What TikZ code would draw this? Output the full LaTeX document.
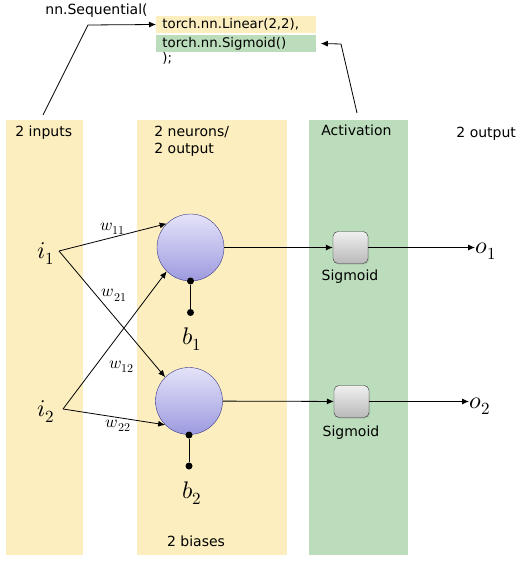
\documentclass[tikz,border=0pt]{standalone}
\usepackage{fontspec}
\usepackage{unicode-math}
\setmainfont{DejaVu Sans}
\setmathfont{Latin Modern Math}
\DeclareMathSizes{24}{24}{17}{12}
\DeclareMathSizes{17}{17}{12}{9}
\usetikzlibrary{arrows.meta,shadows}
\definecolor{colyellow}{HTML}{FCEEBF}
\definecolor{colgreen}{HTML}{BBDDBB}
\definecolor{neuronblue}{HTML}{3A3A8C}
\definecolor{neurontop}{HTML}{E4E3F9}
\definecolor{neuronbottom}{HTML}{9D9ADF}
\tikzset{
    label/.style={anchor=west, inner sep=0, font=\fontsize{14}{17}\selectfont},
    code/.style={anchor=west, inner xsep=6pt, inner ysep=0, minimum height=17.5pt, text width=148pt, align=left, font=\fontsize{13.3}{16}\selectfont},
    neuron/.style={circle, draw=neuronblue, thin, minimum size=67pt, inner sep=0, top color=neurontop, bottom color=neuronbottom},
    sigbox/.style={draw=black!80, thin, rounded corners=5pt, minimum width=35pt, minimum height=32pt, inner sep=0, top color=gray!12, bottom color=gray!55, drop shadow={opacity=0.25, shadow xshift=1pt, shadow yshift=-1pt}},
    dot/.style={circle, fill=black, minimum size=7pt, inner sep=0},
    mathlbl/.style={inner sep=0, font=\fontsize{24}{28}\selectfont},
    wlbl/.style={inner sep=0, font=\fontsize{17}{20}\selectfont},
}
\begin{document}
\begin{tikzpicture}[x=1pt, y=-1pt, >={Latex[length=7pt, width=6pt]}, line width=0.8pt]
    \useasboundingbox (0, 0) rectangle (522, 561);
    %Columns
    \fill[colyellow] (6, 120) rectangle (83, 555);
    \fill[colyellow] (137, 120) rectangle (287, 555);
    \fill[colgreen] (309, 120) rectangle (408, 555);

    %Code
    \node[label] at (45, 11) (seq) {nn.Sequential(};
    \node[code, fill=colyellow] at (156, 24.5) (lin) {torch.nn.Linear(2,2),};
    \node[code, fill=colgreen] at (156, 43.5) (sig) {torch.nn.Sigmoid()};
    \node[label, font=\fontsize{13.3}{16}\selectfont] at (162, 58) (close) {);};

    %Column titles
    \node[label] at (15, 133) (inputs) {2 inputs};
    \node[label, align=left] at (154, 141) (neurons) {2 neurons/\\2 output};
    \node[label] at (321, 130) (act) {Activation};
    \node[label] at (456, 134) (outputs) {2 output};
    \node[label, anchor=center] at (196, 541) (biases) {2 biases};

    %Nodes
    \node[mathlbl] at (46, 254) (i1) {$i_1$};
    \node[mathlbl] at (46, 412) (i2) {$i_2$};
    \node[neuron] at (190.5, 247.5) (n1) {};
    \node[neuron] at (189, 401) (n2) {};
    \node[sigbox] at (350.5, 247.5) (s1) {};
    \node[sigbox] at (351.5, 401.5) (s2) {};
    \node[label, anchor=center] at (350, 277) (s1lbl) {Sigmoid};
    \node[label, anchor=center] at (351, 433) (s2lbl) {Sigmoid};
    \node[mathlbl, anchor=west] at (475, 251) (o1) {$o_1$};
    \node[mathlbl, anchor=west] at (469, 406) (o2) {$o_2$};
    \node[dot] at (190.5, 281) (d1) {};
    \node[dot] at (190.5, 312.5) (e1) {};
    \node[dot] at (189, 435) (d2) {};
    \node[dot] at (189, 466) (e2) {};
    \node[mathlbl] at (192, 339) (b1) {$b_1$};
    \node[mathlbl] at (192, 493) (b2) {$b_2$};
    \coordinate (inA) at (59, 251);
    \coordinate (inB) at (63, 409);
    \coordinate (inputsTop) at (43, 115);
    \coordinate (actTop) at (357, 113);

    %Lines
    \draw[->] (inA) -- (n1.135) node [wlbl, above, pos=0.5, yshift=2pt] {$w_{11}$};
    \draw[->] (inA) -- (n2.135) node [wlbl, anchor=south west, pos=0.4] {$w_{21}$};
    \draw[->] (inB) -- (n1.225) node [wlbl, anchor=north west, pos=0.35, xshift=10pt] {$w_{12}$};
    \draw[->] (inB) -- (n2.225) node [wlbl, below, pos=0.54, yshift=-2pt] {$w_{22}$};
    \draw (d1) -- (e1);
    \draw (d2) -- (e2);
    \draw[->] (n1) -- (s1);
    \draw[->] (n2) -- (s2);
    \draw[->] (s1.east) -- (s1.east -| o1.west);
    \draw[->] (s2.east) -- (s2.east -| o2.west);
    \draw[->] (inputsTop) -- (88, 25) -- (lin.west);
    \draw[->] (actTop) -- (341, 44) -- ([xshift=4pt]sig.east);
\end{tikzpicture}
\end{document}
